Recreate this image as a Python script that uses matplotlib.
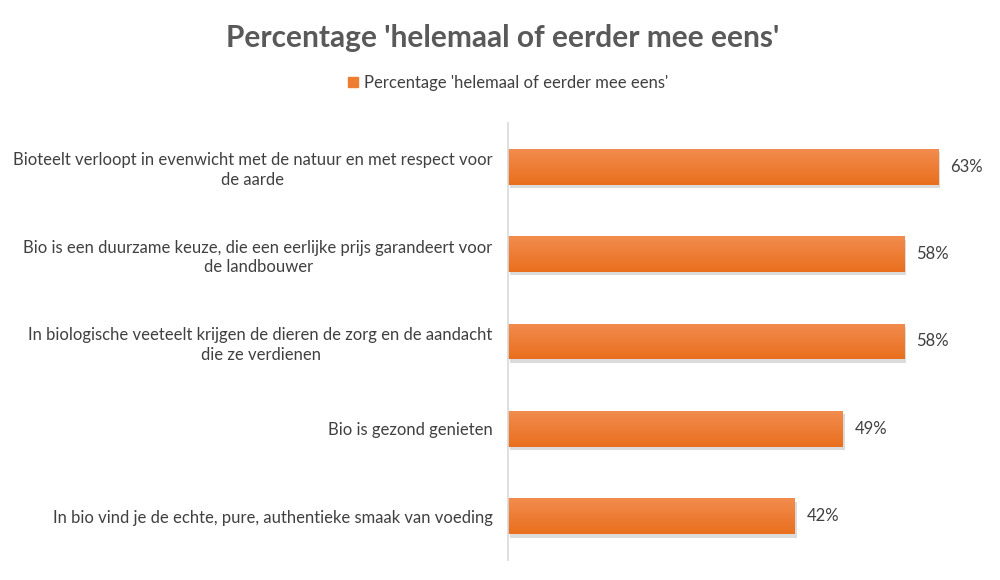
import numpy as np
import matplotlib.pyplot as plt
import matplotlib.patheffects as pe
from matplotlib.colors import LinearSegmentedColormap

plt.rcParams['font.family'] = ['Lato', 'DejaVu Sans']

# gegevens
labels = [
    'Bioteelt verloopt in evenwicht met de natuur en met respect voor\nde aarde',
    'Bio is een duurzame keuze, die een eerlijke prijs garandeert voor\nde landbouwer',
    'In biologische veeteelt krijgen de dieren de zorg en de aandacht\ndie ze verdienen',
    'Bio is gezond genieten',
    'In bio vind je de echte, pure, authentieke smaak van voeding',
]
values = [63, 58, 58, 49, 42]
series_name = "Percentage 'helemaal of eerder mee eens'"

fig = plt.figure(figsize=(10, 5.8), dpi=100)
ax = fig.add_axes([0.508, 0.0345, 0.478, 0.7535])

y = np.arange(len(values))[::-1]
bars = ax.barh(y, values, height=0.41, color='#ED7D31', label=series_name,
               path_effects=[pe.SimplePatchShadow(offset=(1.5, -2.5), alpha=0.3, shadow_rgbFace='#8a8a8a'),
                             pe.Normal()])

# verloop op de balken
cmap = LinearSegmentedColormap.from_list('oranje', ['#F28C4E', '#E96F1E'])
grad = np.linspace(0, 1, 64).reshape(-1, 1)
for b in bars:
    x0, y0 = b.get_x(), b.get_y()
    w, h = b.get_width(), b.get_height()
    im = ax.imshow(grad, cmap=cmap, aspect='auto', extent=(x0, x0 + w, y0, y0 + h),
                   origin='upper', zorder=b.get_zorder() + 0.1)
    im.set_clip_path(b)

for yi, v in zip(y, values):
    ax.text(v + 1.8, yi, f'{v}%', va='center', ha='left', fontsize=12, color='#404040')

ax.set_xlim(0, 70)
ax.set_ylim(-0.5, len(values) - 0.5)
ax.set_yticks(y)
ax.set_yticklabels(labels, fontsize=12, color='#404040', multialignment='center',
                   linespacing=1.3)
ax.tick_params(axis='y', length=0, pad=11)
ax.set_xticks([])
for s in ['top', 'right', 'bottom']:
    ax.spines[s].set_visible(False)
ax.spines['left'].set_color('#D9D9D9')
ax.spines['left'].set_linewidth(1.2)

fig.text(0.503, 0.935, series_name, ha='center', va='center', fontsize=21.5,
         fontweight='bold', color='#595959')
fig.legend(handles=[plt.Rectangle((0, 0), 1, 1, color='#ED7D31')], labels=[series_name],
           loc='center', bbox_to_anchor=(0.508, 0.857), frameon=False, fontsize=12,
           handlelength=0.6, handleheight=0.6, handletextpad=0.4, labelcolor='#404040')

fig.savefig('out.png', dpi=100, facecolor='white')
